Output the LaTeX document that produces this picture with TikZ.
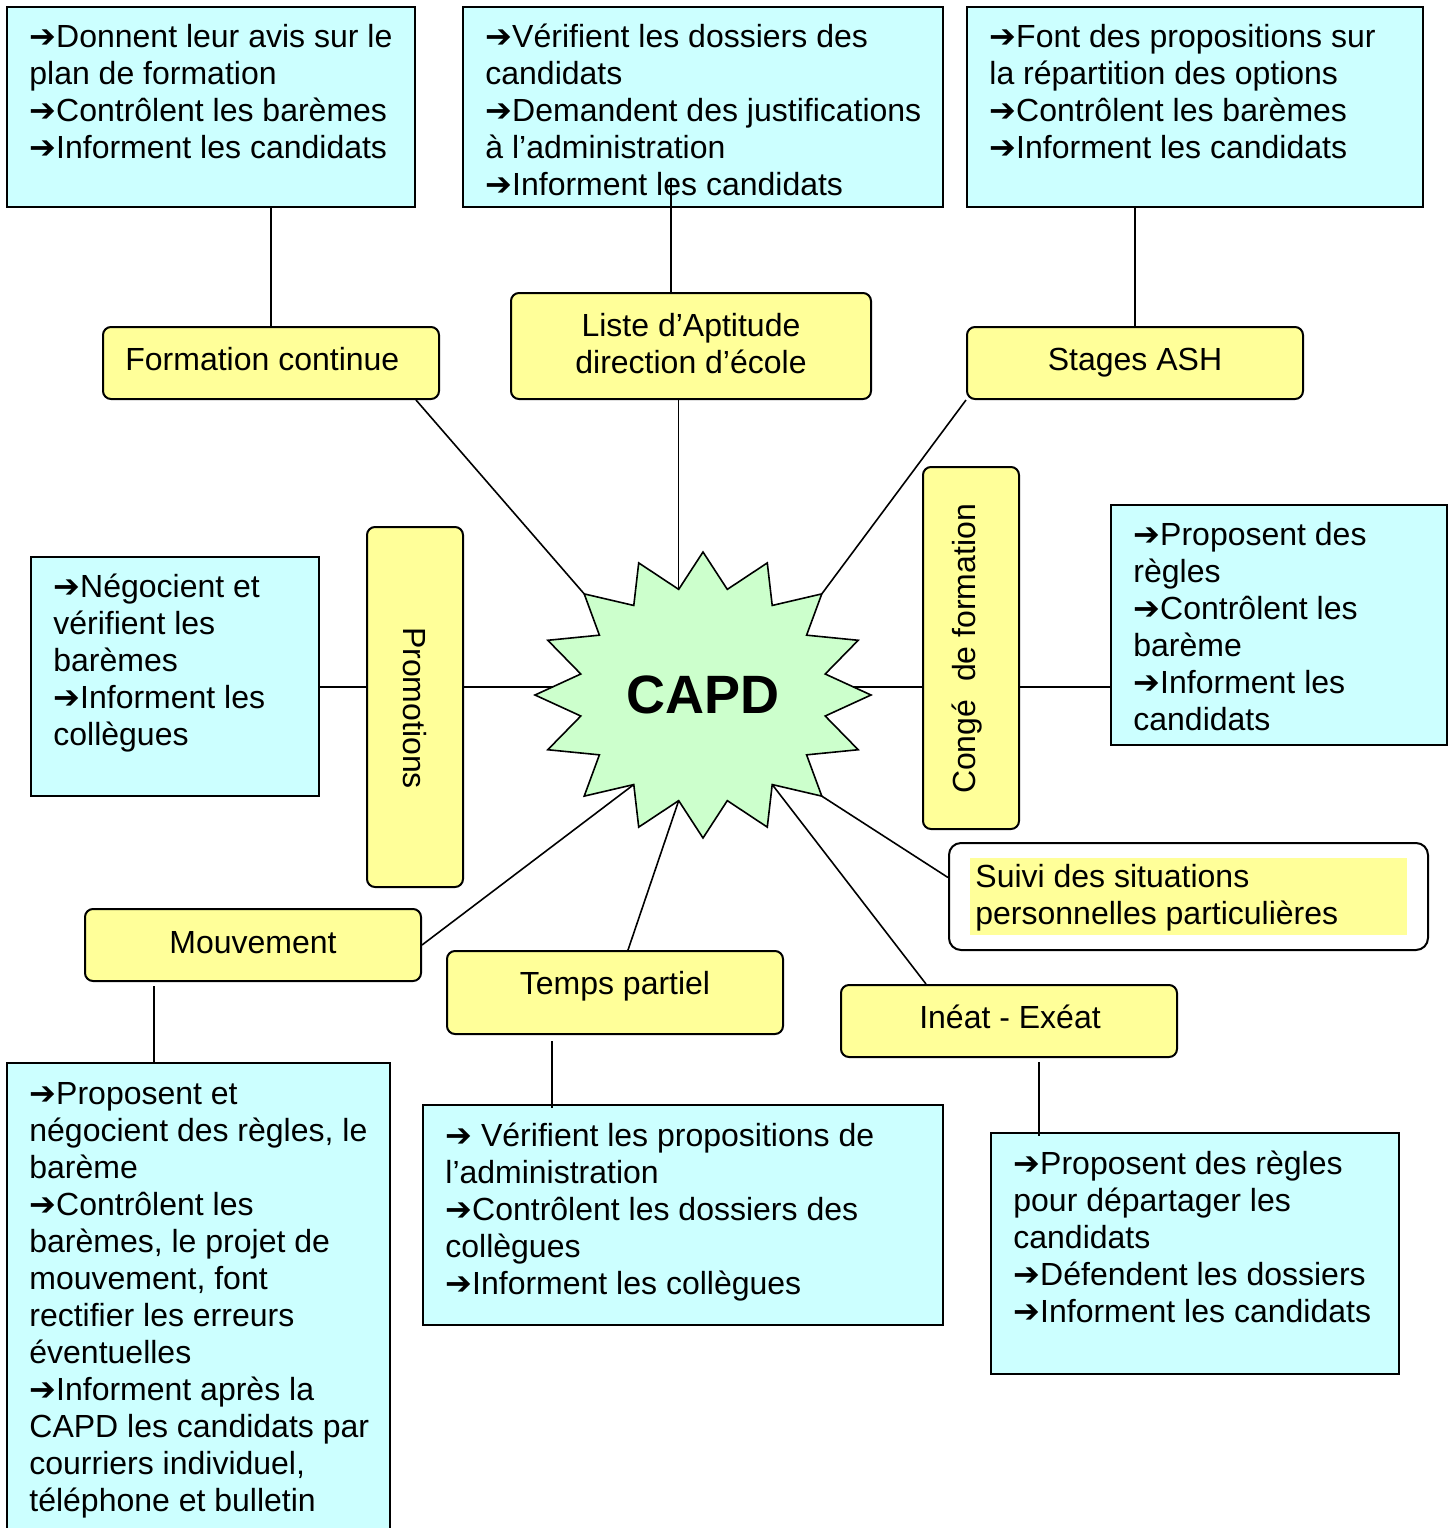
\documentclass[tikz,border=0pt]{standalone}
\usepackage{fontspec}
\setmainfont{Liberation Sans}
\newfontfamily\symfont{DejaVu Sans}
\usetikzlibrary{fit,calc}
\definecolor{taskcyan}{HTML}{CCFFFF}
\definecolor{themeyellow}{HTML}{FFFF99}
\definecolor{stargreen}{HTML}{CCFFCC}
\newcommand{\fl}{{\symfont ➔}}
\begin{document}
\begin{tikzpicture}
    [
    x=0.5pt,y=-0.5pt,
    task/.style={draw,line width=1pt,fill=taskcyan,inner sep=0pt},
    theme/.style={draw,line width=1pt,fill=themeyellow,rounded corners=4pt,inner sep=0pt},
    txt/.style={anchor=base west,align=left,inner sep=0pt,font=\fontsize{16}{18.5}\selectfont},
    ttl/.style={inner sep=0pt,font=\fontsize{16}{18.5}\selectfont},
    link/.style={line width=0.8pt}
    ]
    \useasboundingbox (0,0) rectangle (1456,1528);
    % missions (text placed by the baseline of its last line)
    \node (b1) [task,fit={(7,7) (415,207)}] {};
    \node (b2) [task,fit={(463,7) (943,207)}] {};
    \node (b3) [task,fit={(967,7) (1423,207)}] {};
    \node (b4) [task,fit={(31,557) (319,796)}] {};
    \node (b5) [task,fit={(1111,505) (1447,745)}] {};
    \node (b6) [task,fit={(7,1063) (390,1545)}] {};
    \node (b7) [task,fit={(423,1105) (943,1325)}] {};
    \node (b8) [task,fit={(991,1133) (1399,1374)}] {};
    \node (t1) at (29,158) [txt] {\fl Donnent leur avis sur le\\plan de formation\\\fl Contrôlent les barèmes\\\fl Informent les candidats};
    \node (t2) at (485,195) [txt] {\fl Vérifient les dossiers des\\candidats\\\fl Demandent des justifications\\à l’administration\\\fl Informent les candidats};
    \node (t3) at (989,158) [txt] {\fl Font des propositions sur\\la répartition des options\\\fl Contrôlent les barèmes\\\fl Informent les candidats};
    \node (t4) at (53,745) [txt] {\fl Négocient et\\vérifient les\\barèmes\\\fl Informent les\\collègues};
    \node (t5) at (1133,730) [txt] {\fl Proposent des\\règles\\\fl Contrôlent les\\barème\\\fl Informent les\\candidats};
    \node (t6) at (29,1511) [txt] {\fl Proposent et\\négocient des règles, le\\barème\\\fl Contrôlent les\\barèmes, le projet de\\mouvement, font\\rectifier les erreurs\\éventuelles\\\fl Informent après la\\CAPD les candidats par\\courriers individuel,\\téléphone et bulletin};
    \node (t7) at (445,1294) [txt] {\fl\ Vérifient les propositions de\\l’administration\\\fl Contrôlent les dossiers des\\collègues\\\fl Informent les collègues};
    \node (t8) at (1013,1322) [txt] {\fl Proposent des règles\\pour départager les\\candidats\\\fl Défendent les dossiers\\\fl Informent les candidats};
    % themes
    \node (fc) [theme,fit={(103,327) (439,399)}] {};
    \node (ld) [theme,fit={(511,293) (871,399)}] {};
    \node (sa) [theme,fit={(967,327) (1303,399)}] {};
    \node (pr) [theme,fit={(367,527) (463,887)}] {};
    \node (cf) [theme,fit={(923,467) (1019,829)}] {};
    \node (mv) [theme,fit={(85,909) (421,981)}] {};
    \node (tp) [theme,fit={(447,951) (783,1034)}] {};
    \node (ie) [theme,fit={(841,985) (1177,1057)}] {};
    \node (su) [draw,line width=1pt,fill=white,rounded corners=6pt,inner sep=0pt,fit={(949,843) (1428,950)}] {};
    \fill [themeyellow] (970,858) rectangle (1407,935);
    \node (fct) at (125,370) [ttl,anchor=base west] {Formation continue};
    \node (ldt) at (691,373) [ttl,anchor=base,align=center] {Liste d’Aptitude\\direction d’école};
    \node (sat) at (1135,370) [ttl,anchor=base] {Stages ASH};
    \node (prt) at (415,708) [ttl,rotate=-90] {Promotions};
    \node (cft) at (967,649) [ttl,rotate=90] {Congé \ de formation};
    \node (mvt) at (253,953) [ttl,anchor=base] {Mouvement};
    \node (tpt) at (615,994) [ttl,anchor=base] {Temps partiel};
    \node (iet) at (1010,1028) [ttl,anchor=base] {Inéat - Exéat};
    \node (sut) at (975,924) [txt] {Suivi des situations\\personnelles particulières};
    % star
    \foreach \k in {0,...,31} {
      \pgfmathsetmacro\rx{ifthenelse(mod(\k,2)==0,168,124.6)}
      \pgfmathsetmacro\ry{ifthenelse(mod(\k,2)==0,143,107.7)}
      \coordinate (s\k) at ({703+\rx*cos(90+11.25*\k)},{695-\ry*sin(90+11.25*\k)});
    }
    \draw [link,fill=stargreen] (s0) \foreach \k in {1,...,31} {-- (s\k)} -- cycle;
    \node (capd) at (703,695) [font=\fontsize{27}{30}\selectfont\bfseries] {CAPD};
    \coordinate (pw) at (553,687);
    \coordinate (pe) at (853,687);
    % links
    \draw [link] (fc.north) -- (fc.north |- b1.south);
    \draw [link] ([xshift=-10pt]ld.north) -- ++(0,-113);
    \draw [link] (sa.north) -- (sa.north |- b3.south);
    \draw [link] ([xshift=-12pt]fc.south east) -- (s4);
    \draw [link] (s1 |- ld.south) -- (s1);
    \draw [link] (sa.south west) -- (s28);
    \draw [link] (b4.east |- pw) -- (pr.west |- pw);
    \draw [link] (pr.east |- pw) -- (pw);
    \draw [link] (pe) -- (cf.west |- pe);
    \draw [link] (cf.east |- pe) -- (b5.west |- pe);
    \draw [link] (s13) -- (mv.east);
    \draw [link] ([xshift=35pt,yshift=-2pt]mv.south west) -- ([xshift=35pt]mv.south west |- b6.north);
    \draw [link] (s15) -- ([xshift=6.5pt]tp.north);
    \draw [link] ([xshift=53pt,yshift=-3pt]tp.south west) -- ([xshift=53pt,yshift=-2pt]tp.south west |- b7.north);
    \draw [link] (s19) -- ([xshift=43pt]ie.north west);
    \draw [link] ([xshift=99.5pt,yshift=-2pt]ie.south west) -- ([xshift=99.5pt,yshift=-2pt]ie.south west |- b8.north);
    \draw [link] (s20) -- ([yshift=9.5pt]su.west);
\end{tikzpicture}
\end{document}
